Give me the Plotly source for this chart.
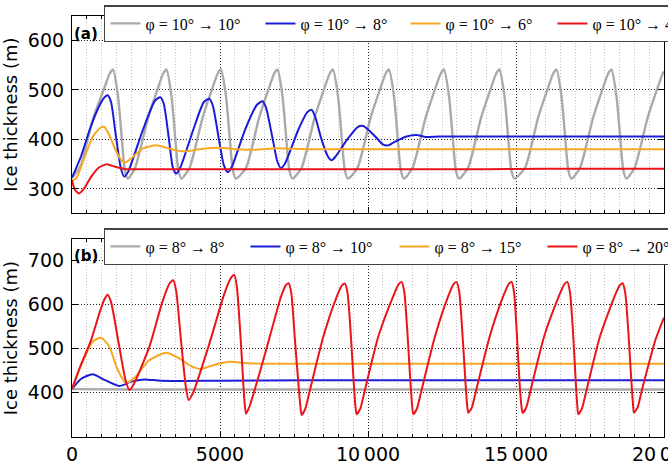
import plotly.graph_objects as go

# ---------------- Panel (a): phi = 10 deg -> ... ----------------
A_GREY_T = [0, 300, 700, 1100, 1275, 1385, 1555, 1685, 1785, 1892,
            2132, 2572, 2912, 3082, 3192, 3362, 3492, 3592, 3699,
            3973, 4413, 4753, 4923, 5033, 5203, 5333, 5433, 5540,
            5882, 6322, 6662, 6832, 6942, 7112, 7242, 7342, 7449,
            7757, 8197, 8537, 8707, 8817, 8987, 9117, 9217, 9324,
            9648, 10088, 10428, 10598, 10708, 10878, 11008, 11108, 11215,
            11507, 11947, 12287, 12457, 12567, 12737, 12867, 12967, 13074,
            13381, 13821, 14161, 14331, 14441, 14611, 14741, 14841, 14948,
            15307, 15747, 16087, 16257, 16367, 16537, 16667, 16767, 16874,
            17165, 17605, 17945, 18115, 18225, 18395, 18525, 18625, 18732,
            19008, 19448, 19788, 19958, 20000]
A_GREY_H = [322, 348, 440, 505, 533, 541, 487, 400, 338, 321,
            343, 444, 505, 533, 541, 487, 400, 338, 321,
            343, 444, 505, 533, 541, 487, 400, 338, 321,
            343, 444, 505, 533, 541, 487, 400, 338, 321,
            343, 444, 505, 533, 541, 487, 400, 338, 321,
            343, 444, 505, 533, 541, 487, 400, 338, 321,
            343, 444, 505, 533, 541, 487, 400, 338, 321,
            343, 444, 505, 533, 541, 487, 400, 338, 321,
            343, 444, 505, 533, 541, 487, 400, 338, 321,
            343, 444, 505, 533, 541, 487, 400, 338, 321,
            343, 444, 505, 533, 537]

A_BLUE_T = [0, 300, 600, 900, 1100, 1205, 1320, 1487, 1650, 1768, 1900,
            2387, 2800, 2984, 3100, 3266, 3400, 3513, 3650,
            4100, 4450, 4639, 4760, 4950, 5130, 5259, 5400,
            5850, 6250, 6441, 6560, 6750, 6940, 7060, 7200,
            7650, 7950, 8097, 8220, 8430, 8650, 8773, 8900,
            9300, 9650, 9841, 10000, 10260, 10500, 10686, 10900,
            11300, 11644, 11950, 12400, 13000, 14000, 15000, 16000,
            17000, 18000, 19000, 20000]
A_BLUE_H = [323, 365, 420, 465, 485, 489, 475, 405, 342, 325, 335,
            418, 478, 485, 472, 405, 345, 331, 342,
            420, 475, 482, 468, 405, 348, 334, 345,
            420, 470, 477, 463, 410, 355, 342, 352,
            420, 455, 460, 445, 400, 365, 358, 365,
            400, 425, 427, 420, 405, 390, 388, 395,
            406, 409, 405, 406, 406, 406, 406, 406,
            406, 406, 406, 406]

A_ORANGE_T = [0, 150, 400, 700, 950, 1092, 1250, 1500, 1700, 1824, 2000,
              2400, 2838, 3200, 3600, 3851, 4300, 4977, 5600, 6200, 6900,
              7500, 8500, 10000, 12000, 14000, 16000, 18000, 20000]
A_ORANGE_H = [317, 322, 360, 405, 423, 425, 410, 375, 356, 354, 362,
              382, 388, 383, 377, 376, 380, 383, 380, 379, 382,
              381, 380, 380, 380, 380, 380, 380, 380]

A_RED_T = [0, 100, 236, 400, 650, 900, 1171, 1450, 1800, 2500, 4000,
           6000, 8000, 10000, 12000, 14000, 16000, 18000, 20000]
A_RED_H = [318, 298, 291, 300, 325, 343, 350, 345, 340, 340, 340,
           340, 340, 340, 340, 340, 341, 341, 341]

A_LABELS = ["φ = 10° → 10°", "φ = 10° → 8°", "φ = 10° → 6°", "φ = 10° → 4°"]

# ---------------- Panel (b): phi = 8 deg -> ... ----------------
B_GREY_T = [0, 2000, 5000, 8000, 11000, 14000, 17000, 20000]
B_GREY_H = [407, 406, 406, 406, 406, 406, 406, 406]

B_BLUE_T = [0, 300, 698, 1100, 1599, 2000, 2443, 3000, 5000, 8000,
            11000, 14000, 17000, 20000]
B_BLUE_H = [407, 430, 441, 428, 414, 424, 429, 426, 426, 427,
            427, 427, 427, 427]

B_ORANGE_T = [0, 300, 700, 980, 1250, 1550, 1824, 2100, 2600, 3175,
              3600, 4000, 4358, 4800, 5315, 5900, 7000, 10000, 13000,
              16000, 20000]
B_ORANGE_H = [407, 460, 515, 524, 505, 450, 421, 432, 472, 490,
              478, 460, 453, 462, 469, 466, 465, 465, 465,
              465, 465]

B_RED_T = [0, 300, 642, 950, 1100, 1205, 1320, 1599, 1800, 1937,
           2100, 2612, 3050, 3300, 3423, 3520, 3682, 3850, 3941,
           4100, 4639, 5150, 5370, 5484, 5570, 5709, 5820, 5878,
           6000, 6554, 7050, 7220, 7319, 7410, 7530, 7660, 7720, 7758,
           7880, 8040, 8490, 8942, 9120, 9222, 9310, 9410, 9510, 9570, 9616,
           9736, 9896, 10346, 10857, 11037, 11137, 11227, 11327, 11427, 11487, 11530,
           11650, 11810, 12260, 12714, 12894, 12994, 13084, 13184, 13284, 13344, 13387,
           13507, 13667, 14117, 14573, 14753, 14853, 14933, 15023, 15113, 15173, 15225,
           15345, 15505, 15955, 16453, 16633, 16733, 16823, 16923, 17013, 17068, 17104,
           17224, 17384, 17834, 18323, 18503, 18603, 18693, 18793, 18893, 18950, 18985,
           19105, 19265, 19715, 20000]
B_RED_H = [408, 462, 518, 585, 612, 622, 605, 503, 430, 405,
           420, 503, 605, 648, 655, 630, 518, 410, 382,
           400, 510, 625, 660, 667, 640, 510, 385, 351,
           368, 495, 615, 643, 648, 625, 520, 410, 365, 348,
           362, 405, 526, 617, 643, 647, 625, 540, 430, 372, 350,
           362, 405, 526, 619, 646, 651, 628, 540, 430, 372, 350,
           362, 405, 526, 619, 646, 651, 628, 540, 432, 374, 353,
           365, 408, 528, 619, 646, 651, 628, 540, 430, 375, 353,
           365, 408, 528, 619, 646, 651, 628, 540, 430, 372, 350,
           362, 405, 526, 617, 643, 648, 625, 540, 430, 375, 353,
           365, 408, 520, 570]

B_LABELS = ["φ = 8° → 8°", "φ = 8° → 10°", "φ = 8° → 15°", "φ = 8° → 20°"]

COLORS = ["#aaaaaa", "#1c1cd8", "#f7a823", "#e8151b"]
WIDTHS = [2.4, 2, 2, 2]
A_ENTRYW = [110, 100, 102, 100]
B_ENTRYW = [95, 104, 103, 100]

X_TICKS = [0, 5000, 10000, 15000, 20000]
X_TICKTEXT = ["0", "5000", "10\u2009000", "15\u2009000", "20\u2009000"]
A_YTICKS = [300, 400, 500, 600]
B_YTICKS = [400, 500, 600, 700]

fig = go.Figure()

a_series = [(A_GREY_T, A_GREY_H), (A_BLUE_T, A_BLUE_H),
            (A_ORANGE_T, A_ORANGE_H), (A_RED_T, A_RED_H)]
b_series = [(B_GREY_T, B_GREY_H), (B_BLUE_T, B_BLUE_H),
            (B_ORANGE_T, B_ORANGE_H), (B_RED_T, B_RED_H)]

for i, (t, h) in enumerate(a_series):
    fig.add_trace(go.Scatter(
        x=t, y=h, mode="lines", name=A_LABELS[i],
        line=dict(color=COLORS[i], width=WIDTHS[i], shape="spline", smoothing=0.6),
        xaxis="x", yaxis="y", legend="legend", legendwidth=A_ENTRYW[i]))

for i, (t, h) in enumerate(b_series):
    fig.add_trace(go.Scatter(
        x=t, y=h, mode="lines", name=B_LABELS[i],
        line=dict(color=COLORS[i], width=WIDTHS[i], shape="spline", smoothing=0.6),
        xaxis="x2", yaxis="y2", legend="legend2", legendwidth=B_ENTRYW[i]))

tick_font = dict(family="DejaVu Sans", size=19, color="black")
title_font = dict(family="DejaVu Sans", size=18, color="black")

common_x = dict(
    range=[0, 20000], tickvals=X_TICKS, ticktext=X_TICKTEXT,
    showline=True, linecolor="black", linewidth=1.2, mirror="ticks",
    ticks="inside", ticklen=6, tickcolor="black",
    showgrid=True, gridcolor="#222222", griddash="1px,2px", gridwidth=1,
    zeroline=False, automargin=False, tickfont=tick_font,
    ticklabeloverflow="allow",
    minor=dict(dtick=500, tick0=0, ticks="inside", ticklen=3,
               tickcolor="black", showgrid=True, gridcolor="#c4c4c4",
               griddash="1px,2px", gridwidth=1),
)
common_y = dict(
    showline=True, linecolor="black", linewidth=1.2, mirror="ticks",
    ticks="inside", ticklen=6, tickcolor="black",
    showgrid=True, gridcolor="#222222", griddash="1px,2px", gridwidth=1,
    zeroline=False, automargin=False, tickfont=tick_font,
    ticklabelstandoff=3,
    title=dict(text="Ice thickness (m)", font=title_font, standoff=8),
)

legend_font = dict(family="Liberation Serif", size=16, color="black")

fig.update_layout(
    width=668, height=468,
    margin=dict(l=72, r=4, t=16, b=31, autoexpand=False),
    paper_bgcolor="white", plot_bgcolor="white",
    xaxis=dict(common_x, domain=[0, 1], anchor="y", showticklabels=False),
    yaxis=dict(common_y, domain=[0.5314, 1], anchor="x", range=[251, 649],
               tickvals=A_YTICKS),
    xaxis2=dict(common_x, domain=[0, 1], anchor="y2", matches="x"),
    yaxis2=dict(common_y, domain=[0, 0.4696], anchor="x2", range=[298, 748],
                tickvals=B_YTICKS),
    legend=dict(orientation="h", x=0.054, y=1.0261, xanchor="left",
                yanchor="top", bgcolor="white", bordercolor="#444444",
                borderwidth=1.5, font=legend_font),
    legend2=dict(orientation="h", x=0.054, y=0.4964, xanchor="left",
                 yanchor="top", bgcolor="white", bordercolor="#444444",
                 borderwidth=1.5, font=legend_font),
    annotations=[
        dict(text="<b>(a)</b>", xref="paper", yref="paper", x=0.0, y=0.957,
             xanchor="left", yanchor="middle", showarrow=False,
             font=dict(family="DejaVu Sans", size=15, color="black")),
        dict(text="<b>(b)</b>", xref="paper", yref="paper", x=0.0, y=0.43,
             xanchor="left", yanchor="middle", showarrow=False,
             font=dict(family="DejaVu Sans", size=15, color="black")),
    ],
)

fig.write_html("out.html")
